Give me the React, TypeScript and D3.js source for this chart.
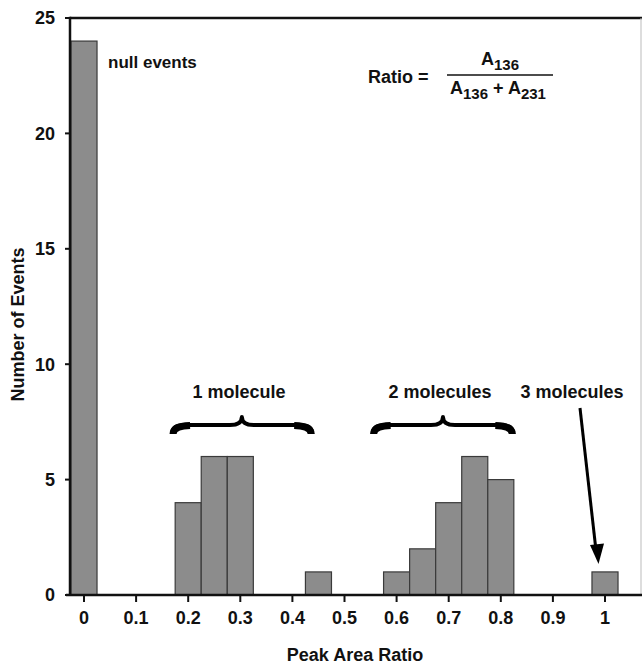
import React from "react";
import * as d3 from "d3";

const binCenters = [0, 0.2, 0.25, 0.3, 0.45, 0.6, 0.65, 0.7, 0.75, 0.8, 1.0];
const binCounts = [24, 4, 6, 6, 1, 1, 2, 4, 6, 5, 1];
const binWidth = 0.05;
const xTickValues = [0, 0.1, 0.2, 0.3, 0.4, 0.5, 0.6, 0.7, 0.8, 0.9, 1];
const yTickValues = [0, 5, 10, 15, 20, 25];
const groupLabels = ["1 molecule", "2 molecules", "3 molecules"];
const braceRanges = [
  [0.169, 0.438, 0.303],
  [0.554, 0.824, 0.689],
];

const W = 642;
const H = 665;
const FONT = "'Liberation Sans', Arial, Helvetica, sans-serif";

export default function App() {
  const x = d3.scaleLinear().domain([0, 1]).range([84, 605]);
  const y = d3.scaleLinear().domain([0, 25]).range([595, 18]);
  const left = 70;
  const right = 641;
  const top = y(25);
  const bottom = y(0);
  const bw = x(binWidth) - x(0);

  const yb = 434;
  const ym = 425;
  const yt = 417;
  const q = 12;
  const brace = (x1: number, x2: number, xm: number) =>
    `M${x1},${yb} Q${x1},${ym} ${x1 + q},${ym} L${xm - q},${ym} Q${xm},${ym} ${xm},${yt} Q${xm},${ym} ${xm + q},${ym} L${x2 - q},${ym} Q${x2},${ym} ${x2},${yb}`;
  const endL = (x1: number) => `M${x1 + 1},${yb} Q${x1 + 1},${ym + 1} ${x1 + q + 6},${ym + 0.5}`;
  const endR = (x2: number) => `M${x2 - 1},${yb} Q${x2 - 1},${ym + 1} ${x2 - q - 6},${ym + 0.5}`;

  return (
    <svg width={W} height={H} style={{ position: "absolute", left: 0, top: 0, background: "#fff" }} fontFamily={FONT} fontWeight="bold">
      {binCenters.map((c, i) => (
        <rect
          key={i}
          x={x(c) - bw / 2}
          y={y(binCounts[i])}
          width={bw}
          height={bottom - y(binCounts[i])}
          fill="#8c8c8c"
          stroke="#3a3a3a"
          strokeWidth={1.2}
        />
      ))}
      <line x1={left} x2={W} y1={top} y2={top} stroke="#111" strokeWidth={2.5} />
      <line x1={right} x2={right} y1={top} y2={bottom} stroke="#bbb" strokeWidth={1} />
      <line x1={left} x2={left} y1={top - 1.2} y2={bottom} stroke="#111" strokeWidth={2.5} />
      <line x1={66} x2={W} y1={bottom} y2={bottom} stroke="#111" strokeWidth={2.5} />
      {yTickValues.map((v) => (
        <g key={v}>
          <line x1={65} x2={left} y1={y(v)} y2={y(v)} stroke="#111" strokeWidth={2} />
          <text x={55} y={y(v)} dy="0.36em" textAnchor="end" fontSize={18} fill="#111">
            {v}
          </text>
        </g>
      ))}
      {xTickValues.map((v) => (
        <g key={v}>
          <line x1={x(v)} x2={x(v)} y1={bottom} y2={bottom + 7} stroke="#111" strokeWidth={2} />
          <text x={x(v)} y={624} textAnchor="middle" fontSize={18} fill="#111">
            {d3.format("~g")(v)}
          </text>
        </g>
      ))}
      <text x={355} y={661} textAnchor="middle" fontSize={18} fill="#111">
        Peak Area Ratio
      </text>
      <text transform={`translate(24,${(top + bottom) / 2 + 18}) rotate(-90)`} textAnchor="middle" fontSize={18} fill="#111">
        Number of Events
      </text>
      <text x={108} y={68} fontSize={17} fill="#111">
        null events
      </text>
      <text x={368} y={83} fontSize={18} fill="#111">
        Ratio =
      </text>
      <line x1={447} x2={553} y1={75} y2={75} stroke="#111" strokeWidth={1.5} />
      <text x={500} y={65} textAnchor="middle" fontSize={18} fill="#111">
        A<tspan fontSize={15} dy={5}>136</tspan>
      </text>
      <text x={498} y={94} textAnchor="middle" fontSize={18} fill="#111">
        A<tspan fontSize={15} dy={5}>136</tspan>
        <tspan dy={-5}> + A</tspan>
        <tspan fontSize={15} dy={5}>231</tspan>
      </text>
      <text x={239} y={398} textAnchor="middle" fontSize={18} fill="#111">
        {groupLabels[0]}
      </text>
      <text x={440} y={398} textAnchor="middle" fontSize={18} fill="#111">
        {groupLabels[1]}
      </text>
      <text x={572} y={398} textAnchor="middle" fontSize={18} fill="#111">
        {groupLabels[2]}
      </text>
      {braceRanges.map((b, i) => (
        <g key={i}>
          <path d={brace(x(b[0]), x(b[1]), x(b[2]))} fill="none" stroke="#000" strokeWidth={4} strokeLinejoin="round" />
          <path d={endL(x(b[0]))} fill="none" stroke="#000" strokeWidth={7} />
          <path d={endR(x(b[1]))} fill="none" stroke="#000" strokeWidth={7} />
        </g>
      ))}
      <line x1={580} y1={408} x2={595.5} y2={546} stroke="#000" strokeWidth={3} />
      <path d="M590,545 L604,543.5 L598.5,564 Z" fill="#000" />
    </svg>
  );
}
